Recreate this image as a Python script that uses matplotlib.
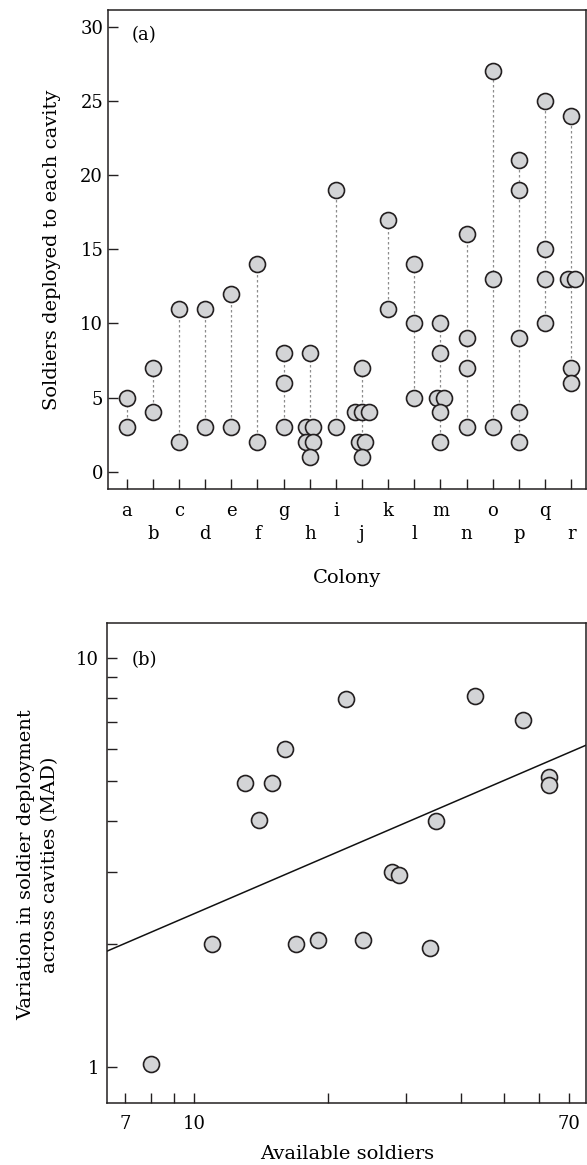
import matplotlib.pyplot as plt
from matplotlib.ticker import FixedLocator, NullFormatter
import numpy as np

# Panel (a): soldiers sent to each cavity, per colony
colonies = list('abcdefghijklmnopqr')
soldiers = [
    [5, 3],
    [7, 4],
    [11, 2],
    [11, 3],
    [12, 3],
    [14, 2],
    [8, 6, 3],
    [8, 3, 3, 2, 2, 1],
    [19, 3],
    [7, 4, 4, 4, 2, 2, 1],
    [17, 11],
    [14, 10, 5],
    [10, 8, 5, 5, 4, 2],
    [16, 9, 7, 3],
    [27, 13, 3],
    [21, 19, 9, 4, 2],
    [25, 15, 13, 10],
    [24, 13, 13, 7, 6],
]

# Panel (b): available soldiers vs MAD
available = [8, 11, 13, 14, 15, 16, 17, 19, 22, 24, 28, 29, 34, 35, 43, 55, 63, 63]
mad = [1.02, 2.0, 4.95, 4.03, 4.95, 6.0, 2.0, 2.05, 7.95, 2.05, 3.0, 2.95,
       1.96, 4.0, 8.1, 7.05, 5.12, 4.9]
fit_slope = 0.467
fit_intercept = -0.092

plt.rcParams['font.family'] = 'DejaVu Serif'
plt.rcParams['font.size'] = 13

face = '#d3d4d6'
edge = '#231f20'
W, H = 587, 1165
label_size = 14

fig = plt.figure(figsize=(W / 100, H / 100), dpi=100)

# ---- panel (a)
ax1 = fig.add_axes([108 / W, 1 - 489 / H, 478.3 / W, 479 / H])
for i, vals in enumerate(soldiers):
    ax1.plot([i, i], [min(vals), max(vals)], linestyle=(0, (2, 2)), color='#8c8c8c',
             linewidth=0.9, zorder=1)
    seen = {}
    for v in vals:
        n = vals.count(v)
        k = seen.get(v, 0)
        seen[v] = k + 1
        dx = (k - (n - 1) / 2) * 0.26
        ax1.plot(i + dx, v, 'o', ms=11.5, mfc=face, mec=edge, mew=1.2, zorder=2)

ax1.set_xlim(-0.715, 17.58)
ax1.set_ylim(-1.17, 31.13)
ax1.set_yticks(range(0, 31, 5))
ax1.set_xticks(range(len(colonies)))
ax1.set_xticklabels(colonies)
ax1.tick_params(direction='in', length=7, width=1, color=edge)
ax1.tick_params(axis='y', pad=3.5)
for i, t in enumerate(ax1.xaxis.get_major_ticks()):
    t.set_pad(9.5 if i % 2 == 0 else 26)
for s in ax1.spines.values():
    s.set_linewidth(1.1)
    s.set_color(edge)

fig.text(132 / W, 1 - 35 / H, '(a)', ha='left', va='center')
fig.text(52 / W, 1 - 250 / H, 'Soldiers deployed to each cavity', rotation=90,
         ha='center', va='center', fontsize=label_size)
fig.text(347 / W, 1 - 578 / H, 'Colony', ha='center', va='center', fontsize=label_size)

# ---- panel (b)
ax2 = fig.add_axes([107.3 / W, 1 - 1102.7 / H, 479 / W, 479.7 / H])
ax2.set_xscale('log')
ax2.set_yscale('log')
ax2.set_xlim(6.38, 76.5)
ax2.set_ylim(0.818, 12.2)

xl = np.array(ax2.get_xlim())
ax2.plot(xl, 10 ** (fit_intercept + fit_slope * np.log10(xl)), color='#111111',
         linewidth=1.1, zorder=1)
ax2.plot(available, mad, 'o', ms=11.5, mfc=face, mec=edge, mew=1.2, zorder=2)

ax2.xaxis.set_major_locator(FixedLocator([7, 10, 70]))
ax2.xaxis.set_minor_locator(FixedLocator([8, 9, 20, 30, 40, 50, 60]))
ax2.set_xticklabels(['7', '10', '70'])
ax2.xaxis.set_minor_formatter(NullFormatter())
ax2.yaxis.set_major_locator(FixedLocator([1, 10]))
ax2.yaxis.set_minor_locator(FixedLocator([2, 3, 4, 5, 6, 7, 8, 9]))
ax2.set_yticklabels(['1', '10'])
ax2.yaxis.set_minor_formatter(NullFormatter())
ax2.tick_params(which='both', direction='in', length=7, width=1, color=edge)
ax2.tick_params(axis='x', which='both', pad=9)
ax2.tick_params(axis='y', which='both', pad=6)
for s in ax2.spines.values():
    s.set_linewidth(1.1)
    s.set_color(edge)

fig.text(132 / W, 1 - 660 / H, '(b)', ha='left', va='center')
fig.text(38 / W, 1 - 865 / H,
         'Variation in soldier deployment\nacross cavities (MAD)',
         rotation=90, ha='center', va='center', linespacing=1.45,
         multialignment='center', fontsize=label_size)
fig.text(347 / W, 1 - 1154 / H, 'Available soldiers', ha='center', va='center',
         fontsize=label_size)

fig.savefig('out.png', dpi=100)
